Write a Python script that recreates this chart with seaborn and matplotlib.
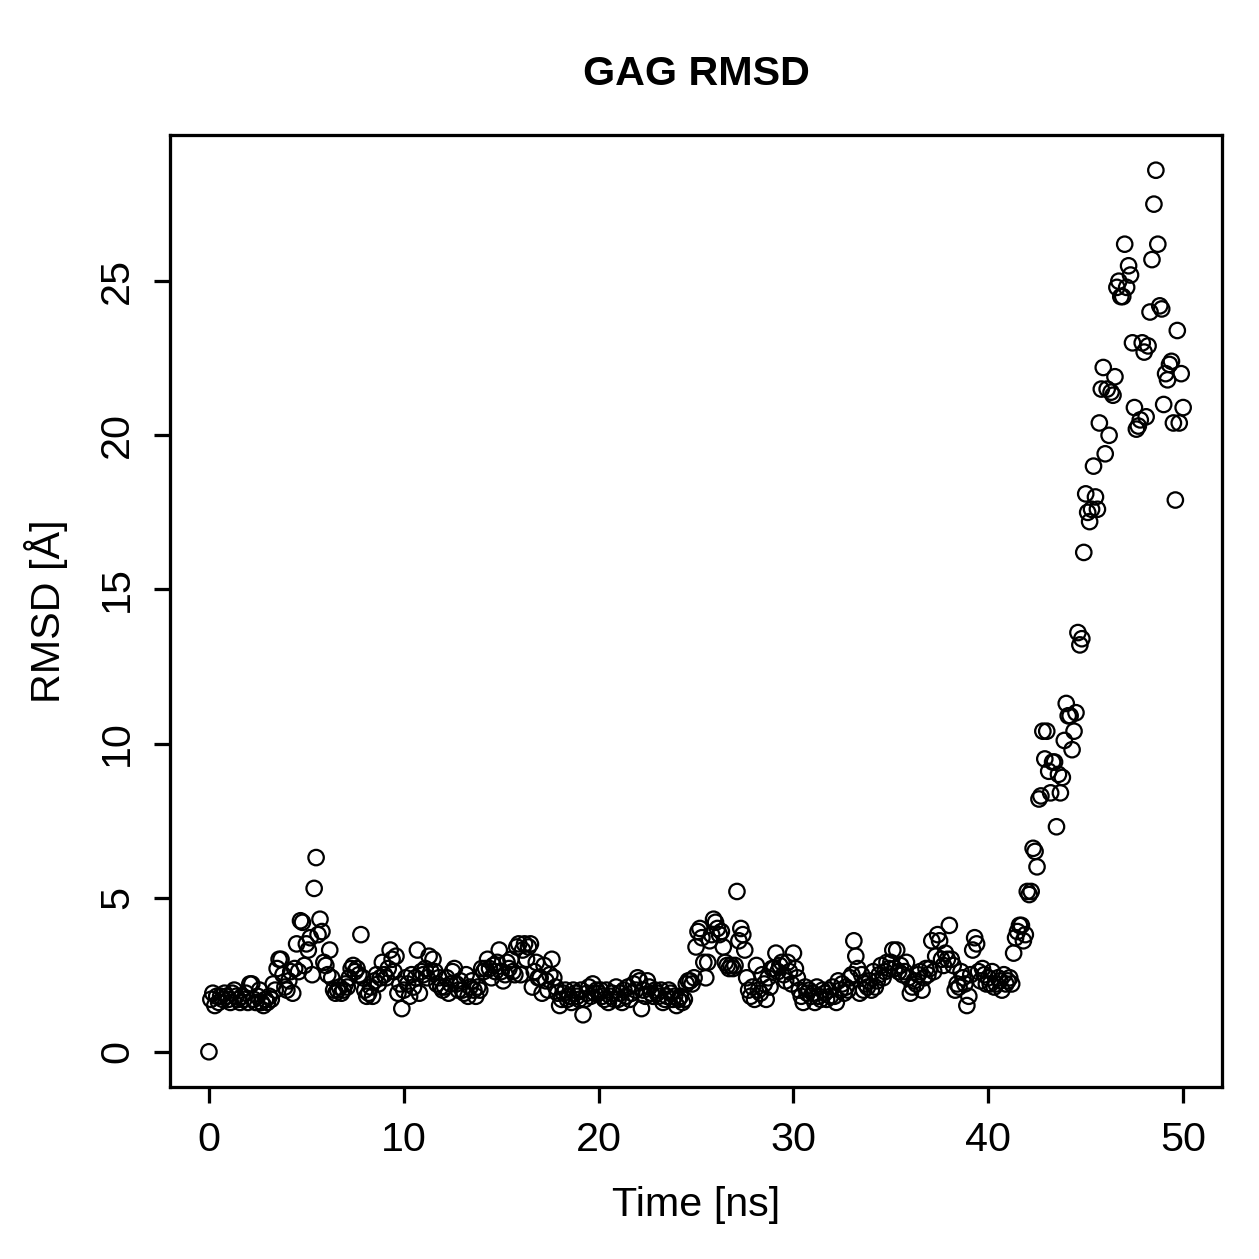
import numpy as np
import pandas as pd
import matplotlib
matplotlib.use("Agg")
import matplotlib.pyplot as plt
import seaborn as sns

# RMSD 資料（每 0.1 ns 一筆，從圖上讀取的估計值）
rmsd_00_10 = [
    0.0, 1.7, 1.9, 1.5, 1.8, 1.6, 1.8, 1.7, 1.9, 1.8,
    1.7, 1.6, 1.9, 2.0, 1.8, 1.7, 1.6, 1.8, 1.7, 1.9,
    1.6, 2.2, 2.2, 1.7, 1.6, 1.8, 2.0, 1.6, 1.5, 1.7,
    1.6, 1.8, 1.7, 2.2, 2.0, 2.7, 3.0, 3.0, 2.5, 2.1,
    2.0, 2.3, 2.6, 1.9, 2.7, 3.5, 2.6, 4.25, 4.2, 2.8,
    3.5, 3.3, 3.7, 2.5, 5.3, 6.3, 3.8, 4.3, 3.9, 2.9,
    2.8, 2.5, 3.3, 2.4, 2.0, 1.9, 2.0, 2.1, 1.9, 2.0,
    2.2, 2.1, 2.4, 2.7, 2.8, 2.6, 2.7, 2.5, 3.8, 2.4,
    2.0, 1.8, 1.9, 2.1, 1.8, 2.3, 2.5, 2.2, 2.4, 2.9,
    2.5, 2.4, 2.7, 3.3, 3.0, 2.6, 3.1, 1.9, 2.2, 1.4,
]
rmsd_10_20 = [
    2.0, 2.4, 2.2, 1.8, 2.5, 2.1, 2.4, 3.3, 1.9, 2.6,
    2.5, 2.7, 2.4, 3.1, 2.6, 3.0, 2.6, 2.2, 2.4, 2.1,
    2.0, 2.1, 2.4, 1.9, 2.2, 2.6, 2.7, 2.2, 2.0, 2.3,
    2.0, 1.9, 2.5, 1.8, 2.1, 2.3, 2.0, 1.8, 2.1, 2.0,
    2.7, 2.6, 2.7, 3.0, 2.7, 2.4, 2.8, 2.6, 2.9, 3.3,
    2.6, 2.3, 2.5, 2.9, 2.7, 3.0, 2.6, 2.5, 3.4, 3.5,
    2.5, 3.3, 3.5, 3.0, 3.4, 3.5, 2.1, 2.6, 2.9, 2.4,
    2.4, 1.9, 2.8, 2.3, 2.0, 2.5, 3.0, 2.4, 2.1, 1.9,
    1.5, 1.7, 1.9, 2.0, 1.7, 1.8, 1.6, 2.0, 1.9, 1.8,
    1.7, 2.0, 1.2, 1.7, 1.9, 2.1, 1.8, 2.2, 1.9, 2.0,
]
rmsd_20_30 = [
    1.9, 2.0, 1.8, 1.7, 2.0, 1.6, 1.8, 1.9, 1.7, 2.1,
    1.7, 1.9, 1.6, 2.0, 1.8, 2.1, 1.7, 1.9, 2.2, 2.0,
    2.4, 2.3, 1.4, 2.0, 1.8, 2.3, 2.1, 1.9, 1.8, 2.0,
    1.9, 1.8, 2.0, 1.6, 1.7, 1.8, 2.0, 1.9, 1.7, 1.8,
    1.5, 1.7, 1.8, 1.6, 1.7, 2.2, 2.3, 2.3, 2.2, 2.4,
    3.4, 3.9, 4.0, 3.7, 2.9, 2.4, 2.9, 3.6, 3.8, 4.3,
    4.2, 4.0, 3.8, 3.9, 3.4, 2.9, 2.8, 2.7, 2.8, 2.7,
    2.8, 5.2, 3.6, 4.0, 3.8, 3.3, 2.4, 2.0, 1.8, 2.1,
    1.7, 2.8, 2.0, 1.9, 2.5, 2.2, 1.7, 2.4, 2.1, 2.7,
    2.7, 3.2, 2.6, 2.8, 2.9, 2.5, 2.3, 2.9, 2.6, 2.2,
]
rmsd_30_40 = [
    3.2, 2.7, 2.4, 2.0, 1.8, 1.6, 2.1, 1.9, 2.0, 1.8,
    1.9, 1.6, 2.1, 1.8, 1.7, 2.0, 1.9, 1.7, 2.0, 1.8,
    2.1, 1.8, 1.6, 2.3, 2.0, 2.2, 1.9, 2.1, 2.0, 2.4,
    2.5, 3.6, 3.1, 2.7, 1.9, 2.5, 2.0, 2.2, 2.1, 2.3,
    2.0, 2.6, 2.1, 2.3, 2.5, 2.8, 2.4, 2.6, 2.9, 2.7,
    2.9, 3.3, 2.7, 3.3, 2.6, 2.8, 2.5, 2.6, 2.9, 2.4,
    1.9, 2.1, 2.3, 2.2, 2.5, 2.6, 2.0, 2.4, 2.7, 2.5,
    2.7, 3.6, 2.6, 3.1, 3.8, 3.6, 3.0, 2.8, 3.2, 3.0,
    4.1, 3.0, 2.8, 2.0, 2.2, 2.1, 2.6, 2.4, 2.2, 1.5,
    1.8, 2.5, 3.3, 3.7, 3.5, 2.6, 2.3, 2.7, 2.5, 2.2,
]
rmsd_40_50 = [
    2.4, 2.2, 2.6, 2.1, 2.2, 2.4, 2.3, 2.0, 2.5, 2.2,
    2.3, 2.4, 2.2, 3.2, 3.7, 3.9, 4.1, 4.1, 3.6, 3.8,
    5.2, 5.1, 5.2, 6.6, 6.5, 6.0, 8.2, 8.3, 10.4, 9.5,
    10.4, 9.1, 8.4, 9.4, 9.4, 7.3, 9.0, 8.4, 8.9, 10.1,
    11.3, 10.9, 10.9, 9.8, 10.4, 11.0, 13.6, 13.2, 13.4, 16.2,
    18.1, 17.5, 17.2, 17.6, 19.0, 18.0, 17.6, 20.4, 21.5, 22.2,
    19.4, 21.5, 20.0, 21.4, 21.3, 21.9, 24.8, 25.0, 24.5, 24.5,
    26.2, 24.8, 25.5, 25.2, 23.0, 20.9, 20.2, 20.3, 20.5, 23.0,
    22.7, 20.6, 22.9, 24.0, 25.7, 27.5, 28.6, 26.2, 24.2, 24.1,
    21.0, 22.0, 21.8, 22.3, 22.4, 20.4, 17.9, 23.4, 20.4, 22.0,
    20.9,
]

rmsd = rmsd_00_10 + rmsd_10_20 + rmsd_20_30 + rmsd_30_40 + rmsd_40_50
time_ns = np.round(np.arange(len(rmsd)) * 0.1, 1)

x_ticks = [0, 10, 20, 30, 40, 50]
y_ticks = [0, 5, 10, 15, 20, 25]

df = pd.DataFrame({"time": time_ns, "rmsd": rmsd})

sns.set_style("ticks")
plt.rcParams["font.family"] = ["Liberation Sans", "DejaVu Sans"]
plt.rcParams["text.color"] = "black"
plt.rcParams["axes.labelcolor"] = "black"
plt.rcParams["xtick.color"] = "black"
plt.rcParams["ytick.color"] = "black"

fig = plt.figure(figsize=(1259 / 180, 1259 / 180), dpi=180)
ax = fig.add_axes([0.135, 0.1366, 0.8357, 0.7562])

sns.scatterplot(data=df, x="time", y="rmsd", ax=ax, s=38, marker="o", linewidth=0.9)
pts = ax.collections[0]
pts.set_facecolor("none")
pts.set_edgecolor("black")

# R 風格的軸範圍（資料範圍外加 4%）
def r_lim(vals):
    lo, hi = min(vals), max(vals)
    d = (hi - lo) * 0.04
    return lo - d, hi + d

ax.set_xlim(*r_lim(time_ns))
ax.set_ylim(*r_lim(rmsd))
ax.set_xticks(x_ticks)
ax.set_yticks(y_ticks)
ax.set_yticklabels([str(v) for v in y_ticks], rotation=90, va="center")

for sp in ax.spines.values():
    sp.set_visible(True)
    sp.set_linewidth(1.3)
    sp.set_color("black")

ax.tick_params(axis="both", direction="out", length=6.5, width=1.3,
               colors="black", labelsize=16.5, pad=7)

ax.set_title("GAG RMSD", fontsize=16.5, fontweight="bold", pad=20, color="black")
ax.set_xlabel("Time [ns]", fontsize=16.5, labelpad=11, color="black")
ax.set_ylabel("RMSD [Å]", fontsize=16.5, labelpad=12, color="black")

fig.savefig("out.png", dpi=180, facecolor="white")
